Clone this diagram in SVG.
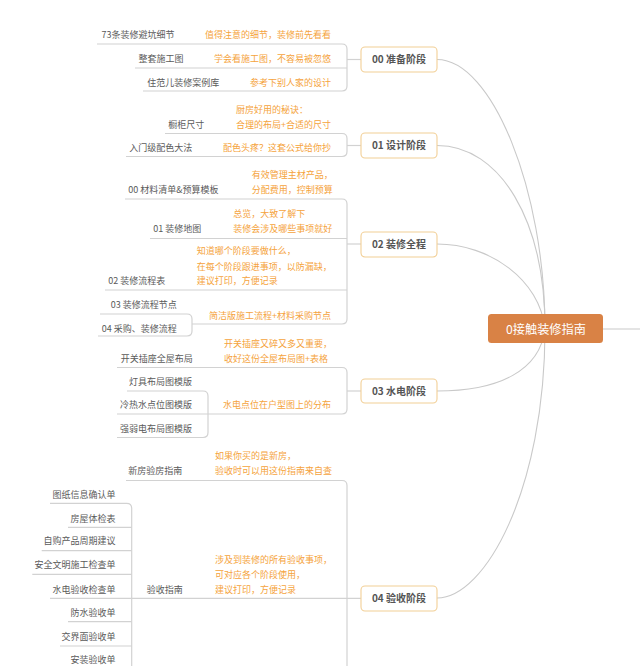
<svg xmlns="http://www.w3.org/2000/svg" width="640" height="666" viewBox="0 0 640 666">
<style>
.bg{fill:#ffffff}
.ln{fill:none;stroke:#d2d2d2;stroke-width:1.2}
.cv{fill:none;stroke:#c9c9c9;stroke-width:1.1}
.t{font-family:"Noto Sans CJK SC","Liberation Sans",sans-serif;font-size:9px;fill:#5a5a5a}
.o{font-family:"Noto Sans CJK SC","Liberation Sans",sans-serif;font-size:9px;fill:#f5a33c}
.sn rect{fill:#ffffff;stroke:#f2cf96;stroke-width:1.1}
.sn text{font-family:"Noto Sans CJK SC","Liberation Sans",sans-serif;font-size:10px;font-weight:bold;fill:#555555;text-anchor:middle}
.e{text-anchor:end}
</style>
<rect class="bg" x="0" y="0" width="640" height="666"/>
<g id="connectors">
<path class="cv" d="M437,59.5 C492,59.5 545,190 545,329"/>
<path class="cv" d="M437,145.5 C500,145.5 545,220 545,329"/>
<path class="cv" d="M437,244 C490,244 540,280 545,329"/>
<path class="cv" d="M437,391 C500,391 540,370 545,329"/>
<path class="cv" d="M437,598 C485,598 545,490 545,329"/>
<path class="cv" d="M603,329 H640"/>
<!-- group 00 -->
<path class="ln" d="M97,44 H342 Q347,44 347,49 V86 Q347,91 342,91 H143"/>
<path class="ln" d="M135,68 H347"/>
<path class="ln" d="M347,59.5 H361"/>
<!-- group 01 -->
<path class="ln" d="M165,133.5 H342 Q347,133.5 347,138.5 V151.5 Q347,156.5 342,156.5 H126"/>
<path class="ln" d="M347,145.5 H361"/>
<!-- group 02 -->
<path class="ln" d="M125,199 H342 Q347,199 347,204 V319 Q347,324 342,324 H192"/>
<path class="ln" d="M150,238.5 H347"/>
<path class="ln" d="M105,290 H347"/>
<path class="ln" d="M347,244 H361"/>
<path class="ln" d="M100,314 H187 Q192,314 192,319 V331 Q192,336 187,336 H98"/>
<!-- group 03 -->
<path class="ln" d="M117,367.5 H342 Q347,367.5 347,372.5 V409 Q347,414 342,414 H208"/>
<path class="ln" d="M347,391 H361"/>
<path class="ln" d="M127,391 H203 Q208,391 208,396 V432.5 Q208,437.5 203,437.5 H117"/>
<path class="ln" d="M117,414 H208"/>
<!-- group 04 -->
<path class="ln" d="M126,480.5 H342 Q347,480.5 347,485.5 V670"/>
<path class="ln" d="M50,598.3 H361"/>
<path class="ln" d="M50,503.3 H126.7 Q131.7,503.3 131.7,508.3 V670"/>
<path class="ln" d="M68,527.3 H131.7"/>
<path class="ln" d="M41.7,550.7 H131.7"/>
<path class="ln" d="M32.3,574.3 H131.7"/>
<path class="ln" d="M68,621.7 H131.7"/>
<path class="ln" d="M60,646 H131.7"/>
<path class="ln" d="M62,669.5 H131.7"/>
</g>
<g id="root">
<rect x="488" y="314" width="115" height="29" rx="3.5" fill="#d98245"/>
<text x="546" y="333.5" text-anchor="middle" font-family="Noto Sans CJK SC, Liberation Sans, sans-serif" font-size="12.2" fill="#ffffff">0接触装修指南</text>
</g>
<g id="stage00" class="sn"><rect x="361" y="47" width="76" height="25" rx="4"/><text x="399" y="63">00 准备阶段</text></g>
<g id="stage01" class="sn"><rect x="361" y="133" width="76" height="25" rx="4"/><text x="399" y="149">01 设计阶段</text></g>
<g id="stage02" class="sn"><rect x="361" y="232" width="76" height="25" rx="4"/><text x="399" y="248">02 装修全程</text></g>
<g id="stage03" class="sn"><rect x="361" y="379" width="76" height="24" rx="4"/><text x="399" y="394.5">03 水电阶段</text></g>
<g id="stage04" class="sn"><rect x="361" y="586" width="76" height="25" rx="4"/><text x="399" y="602">04 验收阶段</text></g>
<g id="n00a"><text class="t" x="101.5" y="38.2">73条装修避坑细节</text><text class="o e" x="331" y="38.2">值得注意的细节，装修前先看看</text></g>
<g id="n00b"><text class="t" x="138.5" y="62.2">整套施工图</text><text class="o e" x="331" y="62.2">学会看施工图，不容易被忽悠</text></g>
<g id="n00c"><text class="t" x="147.3" y="85.5">住范儿装修案例库</text><text class="o e" x="331" y="85.5">参考下别人家的设计</text></g>
<g id="n01a"><text class="t" x="168.3" y="127.5">橱柜尺寸</text><text class="o" x="236" y="113.2">厨房好用的秘诀：</text><text class="o e" x="331" y="127.5">合理的布局+合适的尺寸</text></g>
<g id="n01b"><text class="t" x="129.3" y="150.9">入门级配色大法</text><text class="o e" x="331" y="150.9">配色头疼？这套公式给你抄</text></g>
<g id="n02a"><text class="t" x="128.3" y="193.2">00 材料清单&amp;预算模板</text><text class="o" x="251.7" y="178.2">有效管理主材产品，</text><text class="o" x="251.7" y="193.2">分配费用，控制预算</text></g>
<g id="n02b"><text class="t" x="153.3" y="231.5">01 装修地图</text><text class="o" x="233.3" y="216.5">总览，大致了解下</text><text class="o" x="233.3" y="231.5">装修会涉及哪些事项就好</text></g>
<g id="n02c"><text class="t" x="108.3" y="284.2">02 装修流程表</text><text class="o" x="196.7" y="253.9">知道哪个阶段要做什么，</text><text class="o" x="196.7" y="269.9">在每个阶段跟进事项，以防漏缺，</text><text class="o" x="196.7" y="284.2">建议打印，方便记录</text></g>
<g id="n02d"><text class="o e" x="331" y="319.2">简洁版施工流程+材料采购节点</text></g>
<g id="n02d1"><text class="t" x="110.7" y="307.5">03 装修流程节点</text></g>
<g id="n02d2"><text class="t" x="101.7" y="331.5">04 采购、装修流程</text></g>
<g id="n03a"><text class="t" x="120.7" y="361.5">开关插座全屋布局</text><text class="o" x="224" y="347.2">开关插座又碎又多又重要，</text><text class="o" x="224" y="361.5">收好这份全屋布局图+表格</text></g>
<g id="n03b"><text class="o e" x="331" y="408.2">水电点位在户型图上的分布</text></g>
<g id="n03b1"><text class="t e" x="192" y="384.9">灯具布局图模版</text></g>
<g id="n03b2"><text class="t e" x="192" y="408.2">冷热水点位图模版</text></g>
<g id="n03b3"><text class="t e" x="192" y="431.5">强弱电布局图模版</text></g>
<g id="n04a"><text class="t" x="128.3" y="474.2">新房验房指南</text><text class="o" x="215" y="458.9">如果你买的是新房，</text><text class="o" x="215" y="474.2">验收时可以用这份指南来自查</text></g>
<g id="n04b"><text class="t" x="146.7" y="592.5">验收指南</text><text class="o" x="215" y="563.2">涉及到装修的所有验收事项，</text><text class="o" x="215" y="578.2">可对应各个阶段使用，</text><text class="o" x="215" y="592.5">建议打印，方便记录</text></g>
<g id="n04b1"><text class="t e" x="115.5" y="497.5">图纸信息确认单</text></g>
<g id="n04b2"><text class="t e" x="115.5" y="521.5">房屋体检表</text></g>
<g id="n04b3"><text class="t e" x="115.5" y="544.2">自购产品周期建议</text></g>
<g id="n04b4"><text class="t e" x="115.5" y="568.2">安全文明施工检查单</text></g>
<g id="n04b5"><text class="t e" x="115.5" y="592.5">水电验收检查单</text></g>
<g id="n04b6"><text class="t e" x="115.5" y="615.9">防水验收单</text></g>
<g id="n04b7"><text class="t e" x="115.5" y="639.9">交界面验收单</text></g>
<g id="n04b8"><text class="t e" x="115.5" y="663.2">安装验收单</text></g>
</svg>
